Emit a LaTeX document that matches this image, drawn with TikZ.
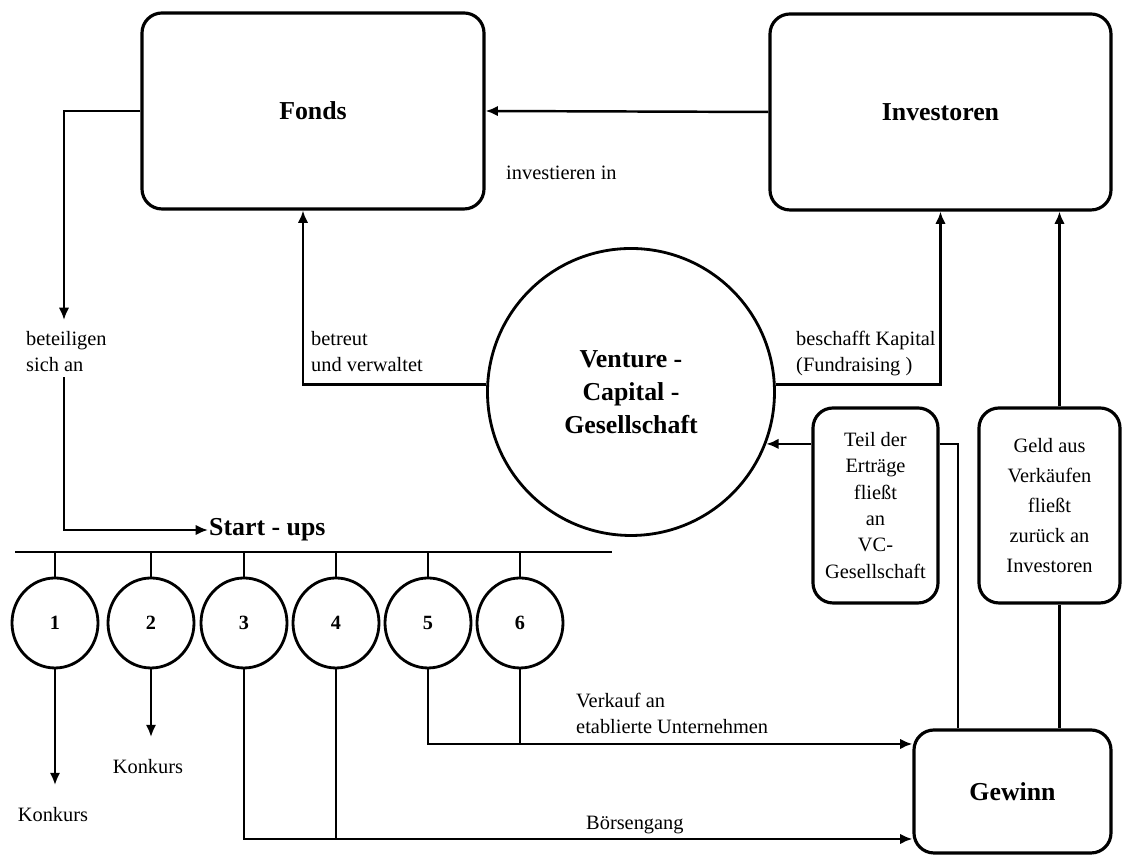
\documentclass[tikz,border=0pt]{standalone}
\usepackage{fontspec}
\setmainfont{Liberation Serif}
\usepackage{tikz}
\usetikzlibrary{arrows.meta, shapes.geometric, positioning, calc}
\newcommand{\hang}[2]
{
	\draw (#2.north) -- (#2.north |- #1)
}

\begin{document}
\begin{tikzpicture}[
every node/.append style={inner sep=0pt},
box/.style={draw, rounded corners=0.4cm, line width=1.8pt, font=\fontsize{14.7}{18.7}\selectfont\bfseries},
tbox/.style={draw, rounded corners=0.4cm, line width=1.8pt, align=center, font=\fontsize{11.6}{15}\selectfont},
su/.style={draw, ellipse, line width=1.6pt, minimum width=1.72cm, minimum height=1.8cm, font=\fontsize{11.5}{13}\selectfont\bfseries},
lab/.style={align=left, font=\fontsize{11.6}{15}\selectfont},
arr/.style={-{Latex[length=7pt,width=6pt]}},
line width=1.4pt]

\useasboundingbox (0,0) rectangle (22.56,17.1);

\node[box, minimum width=6.84cm, minimum height=3.92cm] at (6.26, 14.88) (Fonds){Fonds};
\node[box, minimum width=6.82cm, minimum height=3.92cm] at (18.81, 14.86) (Inv){Investoren};
\node[draw, circle, line width=1.6pt, minimum size=5.74cm, align=center, font=\fontsize{14.7}{18.7}\selectfont\bfseries] at (12.62, 9.26) (VC){Venture -\\Capital -\\Gesellschaft};
\node[tbox, minimum width=2.5cm, minimum height=3.9cm] at (17.51, 6.99) (Teil){Teil der\\Erträge\\fließt\\an\\VC-\\Gesellschaft};
\node[tbox, font=\fontsize{11.6}{17}\selectfont, minimum width=2.82cm, minimum height=3.9cm] at (20.99, 6.99) (Geld){Geld aus\\Verkäufen\\fließt\\zurück an\\Investoren};
\node[box, minimum width=3.94cm, minimum height=2.46cm] at (20.25, 1.27) (Gew){Gewinn};

\node[lab, anchor=west] at (10.1, 13.64) (Inves){investieren in};
\node[lab, anchor=north west] at (0.5, 10.5) (Bet){beteiligen\\sich an};
\node[lab, anchor=north west] at (6.2, 10.5) (Betr){betreut\\und verwaltet};
\node[lab, anchor=north west] at (15.9, 10.5) (Besch){beschafft Kapital\\(Fundraising )};
\node[font=\fontsize{14.7}{17}\selectfont\bfseries, anchor=west] at (4.16, 6.5) (Start){Start - ups};

\node[su] at (1.10, 4.64) (S1){1};
\node[su] at (3.02, 4.64) (S2){2};
\node[su] at (4.88, 4.64) (S3){3};
\node[su] at (6.72, 4.64) (S4){4};
\node[su] at (8.56, 4.64) (S5){5};
\node[su] at (10.40, 4.64) (S6){6};

\node[lab] at (1.06, 0.8) (K1){Konkurs};
\node[lab] at (2.96, 1.76) (K2){Konkurs};
\node[lab, anchor=west] at (11.5, 2.83) (Verk){Verkauf an\\etablierte Unternehmen};
\node[lab, anchor=west] at (11.7, 0.6) (Boer){Börsengang};

\coordinate (bA) at (1.28, 10.7);
\coordinate (bB) at (1.28, 9.55);
\coordinate (barL) at (0.3, 6.06);
\coordinate (barR) at (12.24, 6.06);
\coordinate (ipo) at ([yshift=-0.95cm]Gew.west);
\coordinate (sale) at ([yshift=0.95cm]Gew.west);

\draw[arr] (Inv.west) -- (Fonds.east);
\draw[arr] (Fonds.west) -| (bA);
\draw[arr] (bB) |- (Start.west);
\draw[arr] (VC.177) -| ([xshift=-0.2cm]Fonds.south);
\draw[arr] (VC.3) -| (Inv.south);
\draw[arr] (Teil.west |- VC.-21) -- (VC.-21);
\draw (Teil.east |- VC.-21) -| ([xshift=-1.09cm]Gew.north);
\draw[arr] ([xshift=0.2cm]Geld.north) -- ([xshift=0.2cm]Geld.north |- Inv.south);
\draw ([xshift=0.2cm]Geld.south) -- ([xshift=0.2cm]Geld.south |- Gew.north);

\draw (barL) -- (barR);
\hang{barL}{S1};
\hang{barL}{S2};
\hang{barL}{S3};
\hang{barL}{S4};
\hang{barL}{S5};
\hang{barL}{S6};

\draw[arr, shorten >=0.43cm] (S1.south) -- (S1.south |- K1.north);
\draw[arr, shorten >=0.43cm] (S2.south) -- (S2.south |- K2.north);
\draw[arr] (S3.south) |- (ipo);
\draw (S4.south) -- (S4.south |- ipo);
\draw[arr] (S5.south) |- (sale);
\draw (S6.south) -- (S6.south |- sale);
\end{tikzpicture}
\end{document}
